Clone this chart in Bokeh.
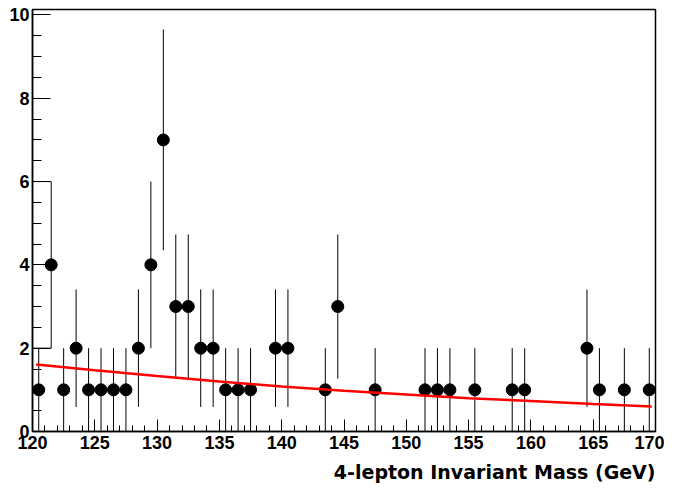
from bokeh.plotting import figure
from bokeh.models import FixedTicker, Title, Range1d
from bokeh.embed import file_html
from bokeh.resources import INLINE

# Histogram bin centres (GeV) and counts
mass = [120.5, 121.5, 122.5, 123.5, 124.5, 125.5, 126.5, 127.5, 128.5, 129.5,
        130.5, 131.5, 132.5, 133.5, 134.5, 135.5, 136.5, 137.5, 139.5, 140.5,
        143.5, 144.5, 147.5, 151.5, 152.5, 153.5, 155.5, 158.5, 159.5, 164.5,
        165.5, 167.5, 169.5]
counts = [1, 4, 1, 2, 1, 1, 1, 1, 2, 4,
          7, 3, 3, 2, 2, 1, 1, 1, 2, 2,
          1, 3, 1, 1, 1, 1, 1, 1, 1, 2,
          1, 1, 1]
errors = [1.0, 2.0, 1.0, 1.41, 1.0, 1.0, 1.0, 1.0, 1.41, 2.0,
          2.65, 1.73, 1.73, 1.41, 1.41, 1.0, 1.0, 1.0, 1.41, 1.41,
          1.0, 1.73, 1.0, 1.0, 1.0, 1.0, 1.0, 1.0, 1.0, 1.41,
          1.0, 1.0, 1.0]

# Background fit curve
fit_x = [120.3, 125, 130, 135, 140, 145, 150, 155, 160, 165, 169.7]
fit_y = [1.61, 1.47, 1.33, 1.20, 1.08, 0.98, 0.89, 0.80, 0.73, 0.66, 0.60]

# Stray box edges drawn beside the second bin in the original
box_x0 = [120.0, 120.0]
box_x1 = [121.5, 121.5]
box_y = [2.0, 6.0]

x_ticks = [120, 125, 130, 135, 140, 145, 150, 155, 160, 165, 170]
y_ticks = [0, 2, 4, 6, 8, 10]
x_title = "4-lepton Invariant Mass (GeV)"

lo = [c - e for c, e in zip(counts, errors)]
hi = [c + e for c, e in zip(counts, errors)]

p = figure(width=664, height=494, output_backend="svg", toolbar_location=None,
           x_range=Range1d(120, 170), y_range=Range1d(0, 10.13),
           min_border_left=32, min_border_top=9, min_border_right=9,
           min_border_bottom=63)
p.xgrid.visible = False
p.ygrid.visible = False
p.outline_line_color = "black"
p.outline_line_width = 1.5
p.background_fill_color = "white"
p.border_fill_color = "white"

p.xaxis.ticker = FixedTicker(ticks=x_ticks,
                             minor_ticks=list(range(x_ticks[0], x_ticks[-1] + 1)))
p.yaxis.ticker = FixedTicker(ticks=y_ticks,
                             minor_ticks=[v / 2 for v in range(0, 21)])
for ax, maj, mnr in ((p.xaxis, 12, 6), (p.yaxis, 18, 9)):
    ax.major_tick_in = maj
    ax.major_tick_out = 0
    ax.minor_tick_in = mnr
    ax.minor_tick_out = 0
    ax.axis_line_color = "black"
    ax.axis_line_width = 1.5
    ax.major_tick_line_color = "black"
    ax.minor_tick_line_color = "black"
    ax.major_tick_line_width = 1
    ax.minor_tick_line_width = 1
    ax.major_label_text_font = "Liberation Sans"
    ax.major_label_text_font_style = "bold"
    ax.major_label_text_font_size = "18px"
    ax.major_label_text_color = "black"
p.xaxis.major_label_standoff = 4
p.yaxis.major_label_standoff = 3

p.segment(x0=box_x0, y0=box_y, x1=box_x1, y1=box_y, line_color="black", line_width=1)
p.segment(x0=mass, y0=lo, x1=mass, y1=hi, line_color="black", line_width=1)
p.scatter(mass, counts, marker="circle", size=12, fill_color="black", line_color="black")
p.line(fit_x, fit_y, line_color="#ff0000", line_width=2.5)

p.add_layout(Title(text=x_title, align="right", text_font="DejaVu Sans",
                   text_font_style="bold", text_font_size="19px",
                   text_color="black", standoff=15, offset=0), "below")

open("out.html", "w").write(file_html(p, INLINE))
